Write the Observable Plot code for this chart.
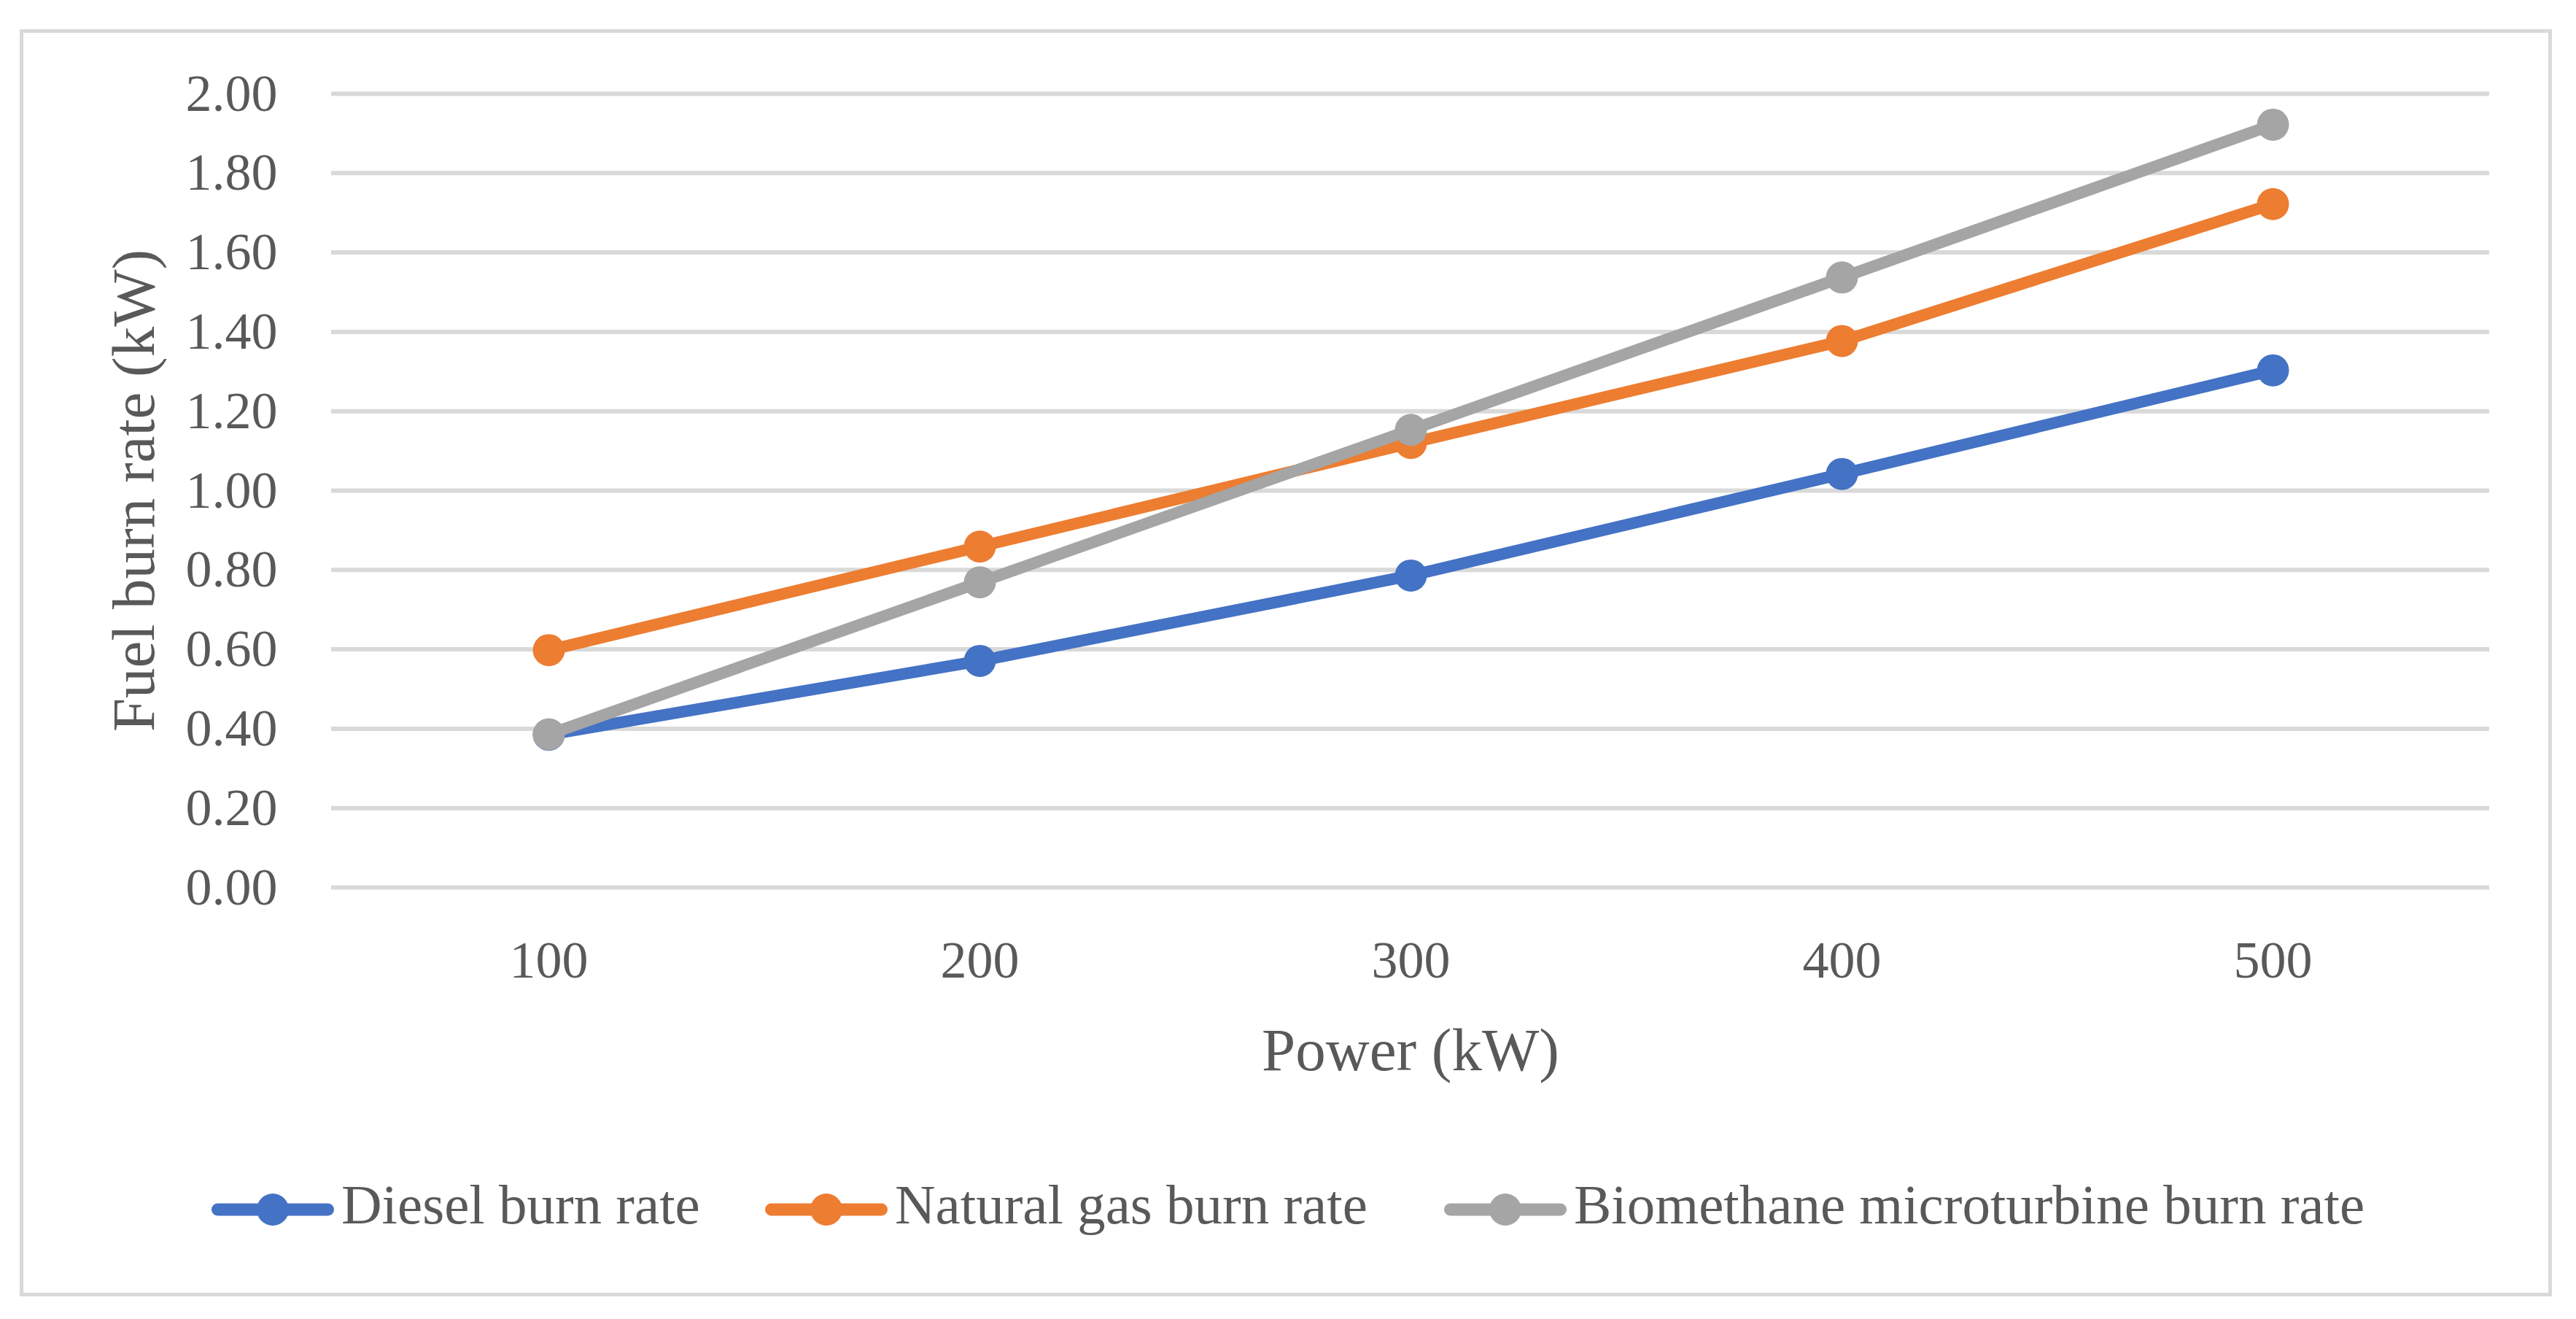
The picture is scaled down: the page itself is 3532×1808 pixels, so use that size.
<!DOCTYPE html>
<html>
<head>
<meta charset="utf-8">
<script src="https://cdn.jsdelivr.net/npm/d3@7"></script>
<script src="https://cdn.jsdelivr.net/npm/@observablehq/plot@0.6"></script>
<style>
  html, body { margin: 0; padding: 0; background: #ffffff; }
  #wrap { position: relative; width: 3532px; height: 1808px; background: #ffffff; overflow: hidden; }
  #frame { position: absolute; left: 27px; top: 40px; width: 3472px; height: 1737px; border: 5px solid #d9d9d9; box-sizing: border-box; }
  #chart { position: absolute; left: 0; top: 0; }
  #legend { position: absolute; left: 0; top: 1608px; width: 3532px; height: 100px; font-family: "Liberation Serif", serif; font-size: 77px; color: #595959; }
  .item { position: absolute; top: 0; height: 100px; display: flex; align-items: center; white-space: nowrap; }
  .item svg { display: block; margin-right: 10px; }
  .item span { position: relative; top: -7px; line-height: 77px; }
</style>
</head>
<body>
<div id="wrap">
  <div id="frame"></div>
  <div id="chart"></div>
  <div id="legend"></div>
</div>
<script>
// ---- data ----
const powers = [100, 200, 300, 400, 500];
const seriesNames = ["Diesel burn rate", "Natural gas burn rate", "Biomethane microturbine burn rate"];
const seriesColors = ["#4472C4", "#ED7D31", "#A5A5A5"];
const dieselRate = [0.385, 0.571, 0.786, 1.042, 1.303];
const naturalGasRate = [0.598, 0.859, 1.120, 1.377, 1.722];
const biomethaneRate = [0.386, 0.769, 1.153, 1.537, 1.922];
const yTicks = [0, 0.2, 0.4, 0.6, 0.8, 1.0, 1.2, 1.4, 1.6, 1.8, 2.0];
const xTitle = "Power (kW)";
const yTitle = "Fuel burn rate (kW)";
const legendLeft = [290, 1049, 1980];

const seriesValues = [dieselRate, naturalGasRate, biomethaneRate];
const rows = seriesNames.map((name, i) => powers.map((p, j) => ({power: p, value: seriesValues[i][j], series: name})));

const seriesMarks = rows.flatMap(data => [
  Plot.line(data, {x: "power", y: "value", stroke: "series", strokeWidth: 16, strokeLinejoin: "round"}),
  Plot.dot(data, {x: "power", y: "value", fill: "series", r: 22, stroke: null})
]);

const chart = Plot.plot({
  width: 3532,
  height: 1530,
  marginLeft: 454,
  marginRight: 119,
  marginTop: 128,
  marginBottom: 314,
  style: {fontFamily: "Liberation Serif", fontSize: "72px", color: "#595959", background: "transparent", overflow: "visible"},
  x: {type: "point", domain: powers, padding: 0.5},
  y: {domain: [0, 2]},
  color: {domain: seriesNames, range: seriesColors},
  marks: [
    Plot.ruleY(yTicks, {stroke: "#d9d9d9", strokeWidth: 6}),
    Plot.axisY({ticks: yTicks, tickFormat: d => d.toFixed(2), tickSize: 0, tickPadding: 74, label: null}),
    Plot.axisX({tickSize: 0, tickPadding: 72, label: null}),
    Plot.text([xTitle], {frameAnchor: "bottom", textAnchor: "middle", lineAnchor: "bottom", dy: 250, fontSize: 83}),
    Plot.text([yTitle], {frameAnchor: "left", textAnchor: "middle", rotate: -90, lineAnchor: "bottom", dx: -244, fontSize: 83}),
    ...seriesMarks
  ]
});
document.getElementById("chart").appendChild(chart);

// ---- legend ----
const legend = document.getElementById("legend");
seriesNames.forEach((name, i) => {
  const item = document.createElement("div");
  item.className = "item";
  item.style.left = legendLeft[i] + "px";
  const ns = "http://www.w3.org/2000/svg";
  const sw = document.createElementNS(ns, "svg");
  sw.setAttribute("width", 168);
  sw.setAttribute("height", 46);
  const ln = document.createElementNS(ns, "line");
  ln.setAttribute("x1", 8.5); ln.setAttribute("x2", 159.5);
  ln.setAttribute("y1", 23); ln.setAttribute("y2", 23);
  ln.setAttribute("stroke", seriesColors[i]);
  ln.setAttribute("stroke-width", 17);
  ln.setAttribute("stroke-linecap", "round");
  const c = document.createElementNS(ns, "circle");
  c.setAttribute("cx", 84); c.setAttribute("cy", 23); c.setAttribute("r", 22);
  c.setAttribute("fill", seriesColors[i]);
  sw.appendChild(ln); sw.appendChild(c);
  const t = document.createElement("span");
  t.textContent = name;
  item.appendChild(sw);
  item.appendChild(t);
  legend.appendChild(item);
});
</script>
</body>
</html>
